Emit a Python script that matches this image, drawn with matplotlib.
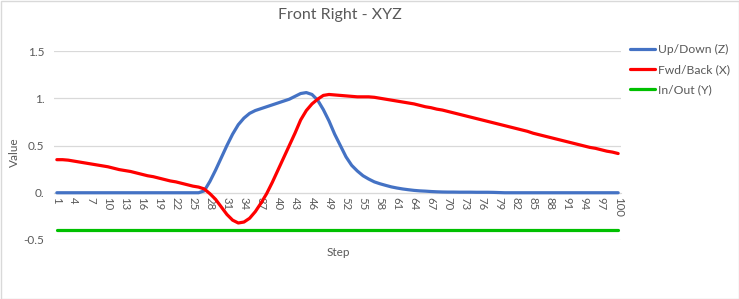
"""Front Right - XYZ: Excel-style line chart of three motion axes over 100 steps."""
import matplotlib

matplotlib.use("Agg")
import matplotlib.pyplot as plt
from matplotlib.patches import Rectangle

plt.rcParams["font.family"] = ["Lato", "DejaVu Sans"]

GRID = "#d9d9d9"
TEXT = "#595959"
BLUE, RED, GREEN = "#4472c4", "#ff0000", "#00c000"

steps = list(range(1, 101))

up_down_z = [
    0, 0, 0, 0, 0, 0, 0, 0, 0, 0,
    0, 0, 0, 0, 0, 0, 0, 0, 0, 0,
    0, 0, 0, 0, 0, 0, 0.02, 0.12, 0.24, 0.37,
    0.5, 0.62, 0.72, 0.79, 0.84, 0.87, 0.89, 0.91, 0.93, 0.95,
    0.97, 0.99, 1.02, 1.05, 1.06, 1.04, 0.98, 0.88, 0.76, 0.62,
    0.5, 0.38, 0.29, 0.23, 0.18, 0.145, 0.115, 0.095, 0.078, 0.062,
    0.05, 0.04, 0.032, 0.025, 0.02, 0.017, 0.013, 0.01, 0.008, 0.007,
    0.007, 0.006, 0.006, 0.006, 0.005, 0.005, 0.005, 0.004, 0.002, 0,
    0, 0, 0, 0, 0, 0, 0, 0, 0, 0,
    0, 0, 0, 0, 0, 0, 0, 0, 0, 0,
]

fwd_back_x = [
    0.35, 0.35, 0.345, 0.335, 0.325, 0.315, 0.305, 0.295, 0.285, 0.275,
    0.26, 0.245, 0.235, 0.225, 0.21, 0.195, 0.18, 0.17, 0.155, 0.14,
    0.125, 0.115, 0.1, 0.085, 0.07, 0.06, 0.04, -0.01, -0.07, -0.15,
    -0.23, -0.29, -0.32, -0.31, -0.27, -0.2, -0.11, -0.01, 0.11, 0.24,
    0.37, 0.5, 0.63, 0.77, 0.87, 0.94, 0.99, 1.03, 1.04, 1.035,
    1.03, 1.025, 1.02, 1.015, 1.015, 1.015, 1.01, 1.0, 0.99, 0.98,
    0.97, 0.96, 0.95, 0.94, 0.925, 0.91, 0.9, 0.885, 0.875, 0.86,
    0.845, 0.83, 0.815, 0.8, 0.785, 0.77, 0.755, 0.74, 0.725, 0.71,
    0.695, 0.68, 0.665, 0.65, 0.63, 0.615, 0.6, 0.585, 0.57, 0.555,
    0.54, 0.525, 0.51, 0.495, 0.48, 0.47, 0.455, 0.44, 0.43, 0.415,
]

in_out_y = [-0.39] * 100

series = [
    ("Up/Down (Z)", up_down_z, BLUE),
    ("Fwd/Back (X)", fwd_back_x, RED),
    ("In/Out (Y)", in_out_y, GREEN),
]

y_ticks = [-0.5, 0, 0.5, 1, 1.5]
y_tick_labels = ["-0.5", "0.", "0.5", "1.", "1.5"]
x_ticks = steps[::3]


def main() -> None:
    fig = plt.figure(figsize=(7.39, 2.99), dpi=100, facecolor="white")
    ax = fig.add_axes([54 / 739, 1 - 240 / 299, (621 - 54) / 739, (240 - 51) / 299])

    for y in y_ticks:
        ax.axhline(y, color=GRID, lw=0.9, zorder=0)

    for label, vals, color in series:
        ax.plot(steps, vals, color=color, lw=2.3, label=label, solid_capstyle="round")

    ax.set_xlim(0.5, 100.5)
    ax.set_ylim(-0.5, 1.5)
    for s in ("top", "right", "left"):
        ax.spines[s].set_visible(False)
    ax.spines["bottom"].set_position(("data", 0))
    ax.spines["bottom"].set_color(GRID)
    ax.spines["bottom"].set_zorder(0)

    ax.set_xticks(x_ticks)
    ax.set_xticklabels([str(x) for x in x_ticks], rotation=270, fontsize=8.2, color=TEXT)
    ax.set_yticks(y_ticks)
    ax.set_yticklabels(y_tick_labels, fontsize=8.5, color=TEXT)
    ax.tick_params(axis="both", length=0)
    ax.tick_params(axis="x", pad=3)
    ax.tick_params(axis="y", pad=7)

    fig.text(340 / 739, 1 - 15 / 299, "Front Right - XYZ", ha="center", va="center",
             fontsize=11.5, color=TEXT)
    fig.text(338 / 739, 1 - 252 / 299, "Step", ha="center", va="center", fontsize=8.5, color=TEXT)
    fig.text(14 / 739, 1 - 152 / 299, "Value", ha="center", va="center", rotation=90,
             fontsize=8.5, color=TEXT)

    fig.legend(loc="upper left", bbox_to_anchor=(630 / 739, 1 - 44 / 299), frameon=False,
               fontsize=8.7, handlelength=2.1, handletextpad=0.2, labelspacing=0.75,
               labelcolor=TEXT, borderaxespad=0, borderpad=0)

    fig.add_artist(Rectangle((0.5 / 739, 0.5 / 299), 1 - 1 / 739, 1 - 1 / 299,
                             transform=fig.transFigure, fill=False, edgecolor=GRID, lw=1))

    fig.savefig("out.png", dpi=100, facecolor="white")


if __name__ == "__main__":
    main()
